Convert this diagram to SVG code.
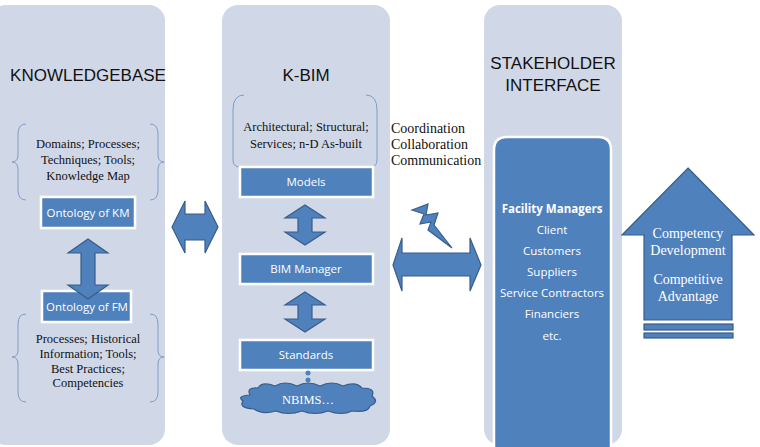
<svg xmlns="http://www.w3.org/2000/svg" width="760" height="447" viewBox="0 0 760 447">
<style>
.panel{fill:#d0d8e8}
.box{fill:#4f81bd;stroke:#fff;stroke-width:2.5}
.arr{fill:#4f81bd;stroke:#385d8a;stroke-width:1.2}
.brace{fill:none;stroke:#7f9cc6;stroke-width:1}
.ser{font-family:"Liberation Serif",serif;font-size:12.5px;fill:#111;text-anchor:middle}
.sans{font-family:"Open Sans","Liberation Sans",sans-serif;font-size:11.5px;fill:#fff;text-anchor:middle}
.head{font-family:"Liberation Sans",sans-serif;font-size:17px;fill:#111;text-anchor:middle}
.wser{font-family:"Liberation Serif",serif;font-size:14px;fill:#fff;text-anchor:middle}
</style>
<rect width="760" height="447" fill="#fff"/>
<rect class="panel" x="-10" y="5" width="175" height="440" rx="16"/>
<rect class="panel" x="222" y="5" width="168" height="440" rx="16"/>
<rect class="panel" x="484" y="5" width="138" height="440" rx="16"/>

<g id="knowledgebase">
<text class="head" x="88" y="81">KNOWLEDGEBASE</text>
<path class="brace" d="M26,124 Q18,124 18,134 L18,155 Q18,162 12,162 Q18,162 18,170 L18,190 Q18,200 26,200"/>
<path class="brace" d="M150,124 Q158,124 158,134 L158,155 Q158,162 164,162 Q158,162 158,170 L158,190 Q158,200 150,200"/>
<text class="ser" x="88" y="148">Domains; Processes;</text>
<text class="ser" x="88" y="164">Techniques; Tools;</text>
<text class="ser" x="88" y="180">Knowledge Map</text>
</g>
<g id="ontkm"><rect class="box" x="41" y="197" width="94" height="31"/><text class="sans" x="88" y="217">Ontology of KM</text></g>
<g id="ontfm"><rect class="box" x="42" y="291" width="89" height="31"/><text class="sans" x="87" y="311">Ontology of FM</text></g>
<g id="fmtext">
<path class="brace" d="M26,314 Q18,314 18,324 L18,350 Q18,357 12,357 Q18,357 18,364 L18,392 Q18,402 26,402"/>
<path class="brace" d="M150,314 Q158,314 158,324 L158,350 Q158,357 164,357 Q158,357 158,364 L158,392 Q158,402 150,402"/>
<text class="ser" x="88" y="343">Processes; Historical</text>
<text class="ser" x="88" y="358">Information; Tools;</text>
<text class="ser" x="88" y="373">Best Practices;</text>
<text class="ser" x="88" y="387">Competencies</text>
</g>

<g id="kbim">
<text class="head" x="306" y="81">K-BIM</text>
<path class="brace" d="M244,95 Q233,95 233,110 L233,160 Q233,167 240,167"/>
<path class="brace" d="M366,95 Q377,95 377,110 L377,160 Q377,167 370,167"/>
<text class="ser" x="306" y="131">Architectural; Structural;</text>
<text class="ser" x="306" y="148">Services; n-D As-built</text>
</g>
<g id="models"><rect class="box" x="240" y="167" width="133" height="30"/><text class="sans" x="306" y="186">Models</text></g>
<g id="bimmgr"><rect class="box" x="240" y="254" width="133" height="30"/><text class="sans" x="306" y="273">BIM Manager</text></g>
<g id="standards"><rect class="box" x="240" y="340" width="133" height="30"/><text class="sans" x="306" y="359">Standards</text></g>
<g id="nbims">
<circle cx="308" cy="373" r="2.5" fill="#4f81bd"/><circle cx="308" cy="380" r="2.5" fill="#4f81bd"/><circle cx="308" cy="387" r="2.8" fill="#4f81bd"/>
<path class="arr" d="M250,395 Q246,387 258,388 Q262,381 275,386 Q285,380 297,386 Q308,380 320,386 Q332,380 343,386 Q356,381 362,388 Q376,388 372,396 Q380,402 370,406 Q368,413 352,411 Q342,416 328,411 Q315,416 302,411 Q288,416 276,411 Q262,415 254,409 Q238,408 243,401 Q236,396 250,395 Z"/>
<text class="ser" x="308" y="404" style="fill:#fff">NBIMS…</text>
</g>

<g id="comm">
<text class="ser" x="391" y="133" style="text-anchor:start;font-size:14px">Coordination</text>
<text class="ser" x="391" y="149" style="text-anchor:start;font-size:14px">Collaboration</text>
<text class="ser" x="391" y="165" style="text-anchor:start;font-size:14px">Communication</text>
</g>

<g id="stakeholder">
<text class="head" x="553" y="69">STAKEHOLDER</text>
<text class="head" x="553" y="91">INTERFACE</text>
<path class="box" d="M494,447 L494,150 Q494,137 507,137 L598,137 Q611,137 611,150 L611,447"/>
<text class="sans" x="552" y="213" style="font-weight:bold">Facility Managers</text>
<text class="sans" x="552" y="234">Client</text>
<text class="sans" x="552" y="255">Customers</text>
<text class="sans" x="552" y="276">Suppliers</text>
<text class="sans" x="552" y="297">Service Contractors</text>
<text class="sans" x="552" y="318">Financiers</text>
<text class="sans" x="552" y="340">etc.</text>
</g>

<g id="competency">
<path class="arr" d="M688,168 L754,235 L732,235 L732,320 L644,320 L644,235 L622,235 Z"/>
<rect class="arr" x="644" y="324" width="89" height="6"/>
<rect class="arr" x="644" y="333" width="89" height="5"/>
<text class="wser" x="688" y="238">Competency</text>
<text class="wser" x="688" y="255">Development</text>
<text class="wser" x="688" y="284">Competitive</text>
<text class="wser" x="688" y="301">Advantage</text>
</g>

<g id="connectors">
<path class="arr" d="M172,227 L185,201 L185,214 L205,214 L205,201 L218,227 L205,253 L205,240 L185,240 L185,253 Z"/>
<path class="arr" d="M88,239 L108,253 L95,253 L95,285 L108,285 L88,299 L68,285 L81,285 L81,253 L68,253 Z"/>
<path class="arr" d="M305,205 L325,218 L312,218 L312,232 L325,232 L305,245 L285,232 L298,232 L298,218 L285,218 Z"/>
<path class="arr" d="M305,292 L325,305 L312,305 L312,319 L325,319 L305,332 L285,319 L298,319 L298,305 L285,305 Z"/>
<path class="arr" d="M393,265 L402,238 L402,253 L470,253 L470,238 L481,265 L470,291 L470,276 L402,276 L402,291 Z"/>
<path class="arr" d="M412,210 L428,204 L426,215 L438,213 L434,225 L452,248 L428,230 L431,222 L420,224 L424,214 Z"/>
</g>
</svg>
